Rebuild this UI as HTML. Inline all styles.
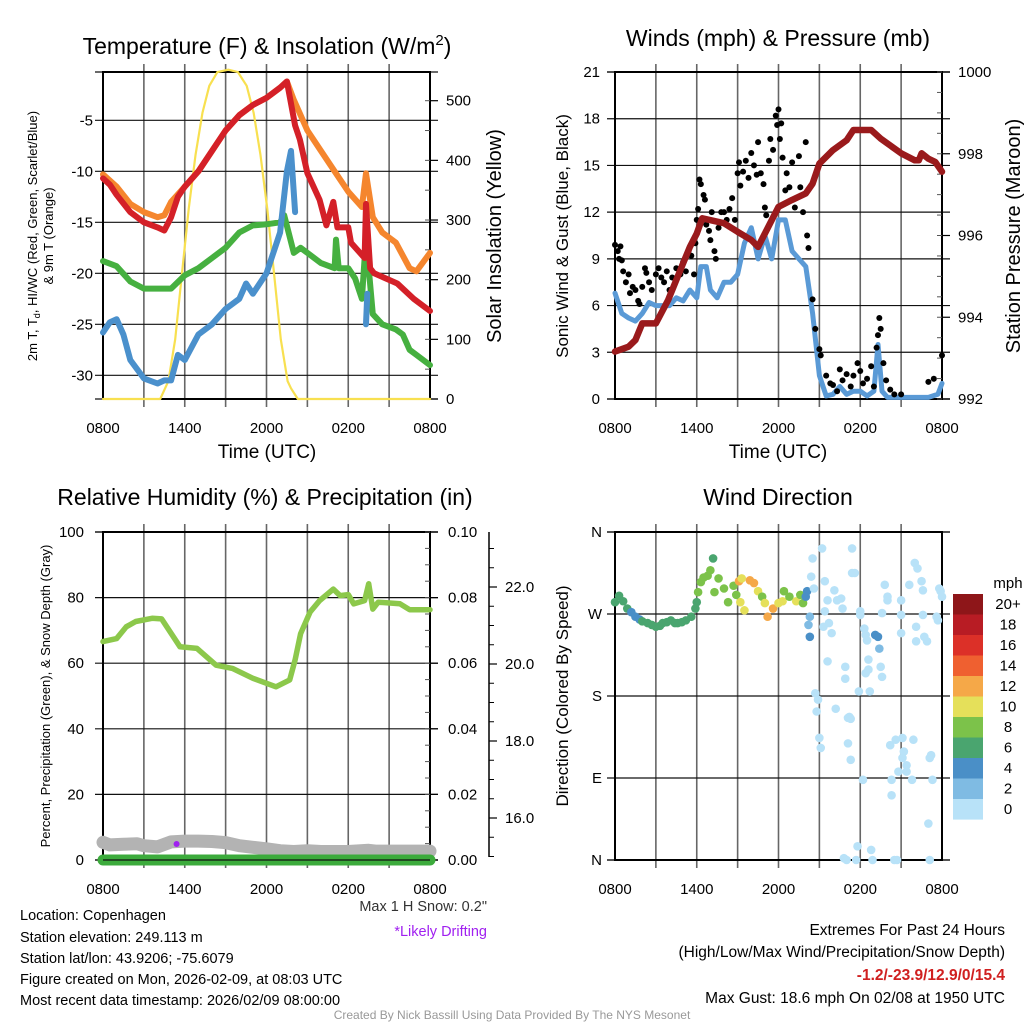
<!DOCTYPE html>
<html><head><meta charset="utf-8"><style>
body{margin:0;background:#fff;}
svg{display:block;font-family:"Liberation Sans",Arial,sans-serif;}
</style></head><body>
<svg id="s" width="1024" height="1024" viewBox="0 0 1024 1024" xmlns="http://www.w3.org/2000/svg">
<rect width="1024" height="1024" fill="#fff"/>
<g id="g1"></g>
<g id="g2"></g>
<g id="g3"></g>
<g id="g4"></g>
<text x="267" y="54" font-size="23" text-anchor="middle">Temperature (F) &amp; Insolation (W/m<tspan dy="-9" font-size="15">2</tspan><tspan dy="9">)</tspan></text>
<text x="778" y="46" font-size="23" text-anchor="middle">Winds (mph) &amp; Pressure (mb)</text>
<text x="265" y="505" font-size="23" text-anchor="middle">Relative Humidity (%) &amp; Precipitation (in)</text>
<text x="778" y="505" font-size="23" text-anchor="middle">Wind Direction</text>
<text x="267" y="458" font-size="19" text-anchor="middle">Time (UTC)</text>
<text x="778" y="458" font-size="19" text-anchor="middle">Time (UTC)</text>
<text transform="translate(37,236) rotate(-90)" font-size="13" text-anchor="middle">2m T, T<tspan font-size="9" dy="3">d</tspan><tspan dy="-3">, HI/WC (Red, Green, Scarlet/Blue)</tspan></text>
<text transform="translate(53,236) rotate(-90)" font-size="13" text-anchor="middle">&amp; 9m T (Orange)</text>
<text transform="translate(501,236) rotate(-90)" font-size="20" text-anchor="middle">Solar Insolation (Yellow)</text>
<text transform="translate(568,236) rotate(-90)" font-size="17" text-anchor="middle">Sonic Wind &amp; Gust (Blue, Black)</text>
<text transform="translate(1020,236) rotate(-90)" font-size="20" text-anchor="middle">Station Pressure (Maroon)</text>
<text transform="translate(50,696) rotate(-90)" font-size="13" text-anchor="middle">Percent, Precipitation (Green), &amp; Snow Depth (Gray)</text>
<text transform="translate(568,696) rotate(-90)" font-size="17" text-anchor="middle">Direction (Colored By Speed)</text>
<g font-size="14.5">
<text x="20" y="920">Location: Copenhagen</text>
<text x="20" y="942">Station elevation: 249.113 m</text>
<text x="20" y="963">Station lat/lon: 43.9206; -75.6079</text>
<text x="20" y="984">Figure created on Mon, 2026-02-09, at 08:03 UTC</text>
<text x="20" y="1005">Most recent data timestamp: 2026/02/09 08:00:00</text>
</g>
<text x="487" y="911" font-size="14.5" text-anchor="end" fill="#333">Max 1 H Snow: 0.2"</text>
<text x="487" y="936" font-size="14.5" text-anchor="end" fill="#a020f0">*Likely Drifting</text>
<g font-size="15.5" text-anchor="end">
<text x="1005" y="935">Extremes For Past 24 Hours</text>
<text x="1005" y="957">(High/Low/Max Wind/Precipitation/Snow Depth)</text>
<text x="1005" y="980" fill="#d02020" font-weight="bold">-1.2/-23.9/12.9/0/15.4</text>
<text x="1005" y="1003">Max Gust: 18.6 mph On 02/08 at 1950 UTC</text>
</g>
<text x="512" y="1019" font-size="12" text-anchor="middle" fill="#999">Created By Nick Bassill Using Data Provided By The NYS Mesonet</text>
</svg>
<script>
// ---------- data ----------
const xTickLabels=["0800","1400","2000","0200","0800"];
const tempTicks=[-5,-10,-15,-20,-25,-30];
const insolTicks=[0,100,200,300,400,500];
const t2Hours=[0,0.5,1,2,3,4,4.5,5,5.5,6,7,8,9,10,11,12,13,13.5,14.1,14.45,15,15.9,16.4,16.9,17.2,18,18.2,19.2,19.3,19.6,19.9,21.6,22.8,24];
const t2Vals=[-10.7,-11.3,-12.3,-14,-15,-15.5,-15.8,-14.5,-12.5,-11.5,-10,-8,-6,-4.5,-3.5,-2.8,-1.8,-1.2,-5.5,-6.9,-10.2,-12.8,-15.3,-13,-15.5,-15.5,-17,-18.5,-13.2,-19.5,-20,-21,-22.5,-23.7];
const t9Hours=[0,1,2,3,4,4.5,5,6,7,8,9,10,11,12,13,13.5,14,15,16,17,18,19,19.3,19.8,20.5,21.5,22.5,23,24];
const t9Vals=[-10.3,-11.5,-13.2,-14,-14.5,-14.3,-13,-11.5,-10,-8,-6,-4.5,-3.5,-2.8,-1.8,-1.2,-3,-6,-8,-10,-12,-13.5,-10.2,-14.5,-16,-17,-19.5,-19.8,-18];
const tdHours=[0,1,2,3,4,5,6,7,8,9,10,11,12,13,13.3,14,14.5,15,16,17,17.1,17.3,18,18.5,19,19.3,19.8,20.5,21.5,22,22.5,23,24];
const tdVals=[-18.8,-19.3,-20.8,-21.5,-21.5,-21.5,-20.2,-19.5,-18.5,-17.5,-16,-15.3,-15.2,-15,-14.3,-18,-17.5,-18,-19,-19.5,-16.7,-19.5,-19.5,-20.5,-22.5,-16.5,-24,-25,-25.5,-26,-27.5,-28,-29];
const wcHours=[0,0.5,1,1.5,2,3,4,4.5,5,5.5,6,7,8,9,10,10.5,11,12,12.5,13,13.5,13.8,14.1,null,19.3,19.4];
const wcVals=[-25.8,-24.8,-24.5,-26,-28.5,-30.3,-30.8,-30.5,-30.5,-28,-28.5,-26,-25,-23.5,-22.5,-21,-22,-20,-18,-16,-10,-8,-14,null,-25,-22];
const insHours=[0,4.2,4.8,5.3,5.8,6.3,6.8,7.3,7.8,8.4,9.2,9.9,10.55,11.05,11.55,12.05,12.55,13.05,13.55,13.8,14.3,24];
const insVals=[0,0,30,100,211,320,410,480,525,548,552,548,525,480,410,320,211,100,30,18,0,0];

const windTicks=[0,3,6,9,12,15,18,21];
const presTicks=[992,994,996,998,1000];
const windHours=[0,0.5,1,1.5,2,2.5,3,4,4.5,5,5.5,6,6.3,6.7,7,7.5,8,8.5,9,9.5,10,10.5,11,11.5,12,12.5,13,13.5,14,14.5,15,15.5,16,16.5,17,17.5,18,18.5,19,19.3,19.6,20,21,22,23,23.7,24];
const windVals=[6.8,5.5,5.2,5,5.5,6.2,6,6,6.5,6.3,7,6.5,8.5,8.5,7,6.5,7.5,7.5,8,10,11,9,10.5,9,11.5,11.5,9.5,9,8.5,5.5,1.5,0.2,0.3,0.8,0.3,0.5,0.5,0.2,0.5,3.5,0.5,0.1,0.1,0.1,0.1,0.3,1];
const gustHours=[0,0.2,0.3,0.4,0.5,0.6,0.8,1,1.1,1.3,1.5,1.7,1.8,2,2.2,2.3,2.5,2.7,3,3.2,3.4,3.6,3.8,4,4.2,4.5,4.8,5,5.2,5.4,5.6,5.8,5.9,6,6.1,6.2,6.3,6.5,6.6,6.7,6.9,7,7.1,7.3,7.4,7.6,7.8,8,8.2,8.4,8.6,8.8,9,9.1,9.2,9.4,9.6,9.8,10,10.2,10.4,10.5,10.7,10.9,11,11.1,11.3,11.4,11.6,11.8,11.9,12,12.1,12.2,12.3,12.5,12.6,12.8,13,13.2,13.5,13.6,13.8,14,14.1,14.2,14.5,14.7,15,15.1,15.5,15.8,16,16.3,16.5,16.7,17,17.3,17.5,17.8,18,18.2,18.5,18.8,19,19.2,19.3,19.4,19.5,19.7,19.9,20.2,20.5,21,23,23.4,24];
const gustVals=[9.9,9.5,9,9.8,8.9,8.2,7.5,8,6.8,7.2,7,6.3,6.1,7.2,8.4,8.1,7.5,7,8,8.4,7.8,7.5,8.2,7,7.8,8.4,8,8.8,8.2,9.5,9.2,8,10,11.5,12.2,14.1,13.8,13.1,12.8,11.2,10.8,10.2,12,9.5,9,11,12,12,11.5,12.2,12.9,11.5,14.5,15.2,13.7,14.6,15.3,14.2,15.8,15,14.4,16.5,14.5,13.8,12.3,11.8,15.3,16.7,16,18.2,17.6,18.6,16.7,17.7,15.5,13.4,14.5,13.6,15.2,12.3,15.6,13.6,12,16.5,10.5,9.7,6.4,4.5,3.2,2.8,1.5,1,0.9,0.5,1.9,1.2,1.6,0.8,1.5,2.3,1.8,1,1.3,2.1,0.8,3.3,4.1,5.2,4.5,2.3,1.2,0.6,0.3,0.3,1.1,1.3,2.8];
const presHours=[0,1,1.5,2,3,3.9,5,5.5,6,6.4,8,9,10,10.5,11,12,13,14,14.5,15,16,17,17.5,18,18.8,19.5,20,21,22,22.3,22.5,23,23.5,24];
const presVals=[993.16,993.28,993.44,993.85,993.85,994.42,995.32,995.72,996.05,996.42,996.3,996.09,995.89,995.72,996.05,996.7,996.87,997.03,997.27,997.76,998.09,998.33,998.58,998.58,998.58,998.37,998.25,998.01,997.84,997.84,998.01,997.88,997.8,997.56];

const rhTicks=[0,20,40,60,80,100];
const precipTicks=["0.00","0.02","0.04","0.06","0.08","0.10"];
const snowTicks=[16,18,20,22];
const rhHours=[0,1,1.7,2.4,3.6,4.3,5.65,6.9,8.3,9.5,11,12.7,13.7,14.1,14.5,15.2,15.9,16.9,17.4,18,18.4,19.2,19.5,19.8,20.2,21.8,22.5,24];
const rhVals=[66.6,67.5,71.1,72.7,73.7,73.5,65,64.5,59.4,58.4,55.4,52.8,54.9,61,69,75.6,79.1,82.6,80.6,80.9,78.1,79.1,84.2,76.5,78.6,78.1,76.3,76.3];
const snowHours=[0,0.5,1.5,2.5,3,4,5,6,7,8,9,10,11,12,13,14,15,16,18,19.5,20,24];
const snowVals=[15.37,15.3,15.32,15.33,15.28,15.25,15.38,15.4,15.4,15.39,15.36,15.28,15.24,15.2,15.15,15.13,15.15,15.13,15.13,15.16,15.14,15.14];
const precipHours=[0,24];
const precipVals=[0,0];

const dirLabels=["N","E","S","W","N"];
const dirTicks=[0,90,180,270,360];
const speedBinLabels=["20+","18","16","14","12","10","8","6","4","2","0"];
const dirHours=[0,0.3,0.6,0.9,1.2,1.5,1.8,2,2.4,2.7,3,3.3,3.5,3.8,4.1,4.4,4.6,4.9,5.2,5.6,5.9,6,6.1,6.3,6.5,6.8,7,7.2,7.3,7.6,8,8.3,8.7,8.9,9.1,9.2,9.3,9.5,9.9,10.2,10.5,10.8,11,11.2,11.6,12,12.3,12.4,12.8,13.3,13.6,13.8,14,14.1,14.2,14.3,14.3,14.4,14.5,14.6,14.7,14.8,14.9,15,15.1,15.2,15.3,15.4,15.4,15.6,15.6,15.7,15.9,16.1,16.2,16.3,16.6,16.7,16.8,16.9,16.9,17,17.1,17.1,17.2,17.3,17.3,17.4,17.4,17.6,17.7,17.8,17.9,18,18,18.2,18.3,18.4,18.4,18.5,18.6,18.6,18.7,18.8,18.9,19.1,19.3,19.4,19.5,19.6,19.6,19.8,20,20,20.2,20.3,20.3,20.5,20.6,20.7,20.8,21,21,21,21.1,21.1,21.2,21.4,21.4,21.6,21.8,21.9,22,22.1,22.1,22.2,22.5,22.6,22.6,22.7,22.9,23,23.1,23.1,23.2,23.3,23.6,23.7,23.8,23.9,24];
const dirVals=[283,290,284,276,272,267,264,262,260,258,256,257,260,261,263,260,260,261,263,267,276,283,294,305,310,312,318,331,294,309,298,283,301,291,306,283,309,274,307,304,295,289,282,267,276,282,284,295,289,284,291,282,289,295,258,245,267,311,331,298,183,163,176,134,123,342,256,306,273,285,218,260,249,296,166,285,287,276,2,212,199,0,156,128,157,110,155,315,342,315,0,15,185,273,269,88,254,247,205,241,209,220,185,11,0,247,245,232,212,201,271,302,289,285,126,88,71,0,132,0,97,285,269,249,134,112,119,104,97,302,88,132,326,256,240,320,306,296,269,245,240,40,0,112,115,88,267,263,298,295,289,285,315,271];
const dirSpeed=[7,7,7,7,5,5,5,7,7,7,7,7,7,7,7,7,7,7,7,7,7,7,9,9,9,9,9,7,9,9,9,9,9,9,13,11,11,11,13,13,11,9,11,13,13,11,11,9,9,11,9,9,5,5,3,5,3,1,1,1,1,1,1,1,1,1,1,1,1,1,1,1,1,1,1,1,1,1,1,1,1,1,1,1,1,1,1,1,1,1,1,1,1,1,1,1,1,1,1,1,1,1,1,1,1,5,5,3,1,1,1,1,1,1,1,1,1,1,1,1,1,1,1,1,1,1,1,1,1,1,1,1,1,1,1,1,1,1,1,1,1,1,1,1,1,1,1,1,1,1,1,1,1,1];

// ---------- drawing ----------
const NS="http://www.w3.org/2000/svg";
const speedColors=["#8e1619","#b81c24","#dc3028","#ef6030","#f5a848","#e5e05a","#7cc24a","#4aa56f","#4a8fc7","#7fbbe3","#b8e2f8"];
function mk(parent,tag,attrs){const e=document.createElementNS(NS,tag);for(const k in attrs)e.setAttribute(k,attrs[k]);parent.appendChild(e);return e;}
function Panel(gid,x0,x1,y0,y1){return {g:document.getElementById(gid),x0,x1,y0,y1,xs:h=>x0+h*(x1-x0)/24};}
function lin(d0,d1,r0,r1){return v=>r0+(v-d0)*(r1-r0)/(d1-d0);}
function frame(P,yTicks,ys,labels,labelX){
  const g=P.g;
  for(let i=1;i<8;i++){const x=P.xs(i*3);const l=mk(g,'line',{x1:x,x2:x,y1:P.y0-8,y2:P.y1+8,stroke:'#666','stroke-width':1.6});
    
    }
  yTicks.forEach((v,i)=>{const y=ys(v);const l=mk(g,'line',{x1:P.x0-8,x2:P.x1+8,y1:y,y2:y,stroke:'#111','stroke-width':1.2});
    
    
    const t=mk(g,'text',{x:labelX,y:y+5,'font-size':15,'text-anchor':'end'});t.textContent=labels[i];
    
    });
  mk(g,'line',{x1:P.x0-8,x2:P.x1+8,y1:P.y0,y2:P.y0,stroke:'#111','stroke-width':1.2});
  mk(g,'line',{x1:P.x0-8,x2:P.x1+8,y1:P.y1,y2:P.y1,stroke:'#111','stroke-width':1.2});
  mk(g,'rect',{x:P.x0,y:P.y0,width:P.x1-P.x0,height:P.y1-P.y0,fill:'none',stroke:'#000','stroke-width':2});
  xTickLabels.forEach((s,i)=>{const t=mk(g,'text',{x:P.xs(i*6),y:P.y1+34,'font-size':15,'text-anchor':'middle'});t.textContent=s;
    
    });
}
function rightAxis(P,ticks,ys,labels,x,minorStep,lo,hi){
  const g=P.g;
  ticks.forEach((v,i)=>{const y=ys(v);mk(g,'line',{x1:P.x1,x2:P.x1+8,y1:y,y2:y,stroke:'#000','stroke-width':1.2});
    const t=mk(g,'text',{x:x,y:y+5,'font-size':15});t.textContent=labels[i];
    
    });
  for(let v=lo;v<=hi+1e-9;v+=minorStep){const y=ys(v);if(y<P.y0-0.5||y>P.y1+0.5)continue;mk(g,'line',{x1:P.x1-5,x2:P.x1,y1:y,y2:y,stroke:'#555','stroke-width':1});}
}
function line(P,hours,vals,ys,color,w,name){
  let segs=[[]];
  hours.forEach((h,i)=>{if(h===null||vals[i]===null){segs.push([]);return;}segs[segs.length-1].push(P.xs(h).toFixed(1)+','+ys(vals[i]).toFixed(1));});
  segs.filter(s=>s.length).forEach(s=>{const p=mk(P.g,'polyline',{points:s.join(' '),fill:'none',stroke:color,'stroke-width':w,'stroke-linejoin':'round','stroke-linecap':'round'});
    
    });
}

// Panel 1
const P1=Panel('g1',103,430,72,399);
const tY=lin(-5,-30,120.3,375.3), iY=lin(0,500,399,100.7);
frame(P1,tempTicks,tY,tempTicks.map(String),93);
rightAxis(P1,insolTicks,iY,insolTicks.map(String),446,50,0,550);
line(P1,insHours,insVals,iY,'#f8e050',2.2,'insolation-line');
line(P1,t9Hours,t9Vals,tY,'#f5862e',6,'temp-9m-line');
line(P1,tdHours,tdVals,tY,'#46b040',6,'dewpoint-line');
line(P1,wcHours,wcVals,tY,'#4a90cc',6,'windchill-line');
line(P1,t2Hours,t2Vals,tY,'#d42028',6,'temp-2m-line');

// Panel 2
const P2=Panel('g2',615,942,72,399);
const wY=lin(0,21,399,72), pY=lin(992,1000,399,72);
frame(P2,windTicks,wY,windTicks.map(String),600);
rightAxis(P2,presTicks,pY,presTicks.map(String),958,0.5,992,1000);
line(P2,windHours,windVals,wY,'#5a9ad6',5,'wind-speed-line');
gustHours.forEach((h,i)=>{const c=mk(P2.g,'circle',{cx:P2.xs(h),cy:wY(gustVals[i]),r:3,fill:'#000'});
  
  });
line(P2,presHours,presVals,pY,'#9a1a1c',6.5,'pressure-line');

// Panel 3
const P3=Panel('g3',103,430,532,860);
const rY=lin(0,100,860,532), sY=lin(16,22,818,587);
frame(P3,rhTicks,rY,rhTicks.map(String),84);
rightAxis(P3,rhTicks,rY,precipTicks,448,5,0,100);
mk(P3.g,'line',{x1:489,x2:489,y1:532,y2:857,stroke:'#000','stroke-width':1.5});
for(let v=15;v<=23.4;v+=0.5){const y=sY(v);if(y<532||y>857)continue;mk(P3.g,'line',{x1:489,x2:494,y1:y,y2:y,stroke:'#000','stroke-width':1});}
snowTicks.forEach(v=>{const y=sY(v);mk(P3.g,'line',{x1:489,x2:497,y1:y,y2:y,stroke:'#000','stroke-width':1.2});const t=mk(P3.g,'text',{x:505,y:y+5,'font-size':15});t.textContent=v.toFixed(1);
  
  });
line(P3,snowHours,snowVals,sY,'#b3b3b3',13,'snow-depth-line');
line(P3,precipHours,precipVals,rY,'#3cab3c',11,'precip-line');
mk(P3.g,'line',{x1:103,x2:430,y1:860,y2:860,stroke:'#111','stroke-width':1.2});
line(P3,rhHours,rhVals,rY,'#8cc84b',5.5,'humidity-line');
mk(P3.g,'circle',{cx:P3.xs(5.4),cy:844,r:3,fill:'#a020f0'});

// Panel 4
const P4=Panel('g4',615,942,532,860);
const dY=lin(0,360,860,532);
frame(P4,dirTicks,dY,dirLabels,602);
dirHours.forEach((h,i)=>{const s=dirSpeed[i];const bin=Math.min(10,Math.floor(s/2));const c=mk(P4.g,'circle',{cx:P4.xs(h),cy:dY(dirVals[i]),r:4.3,fill:speedColors[10-bin]});
  
  });
const cb=mk(document.getElementById('s'),'g',{});


speedColors.forEach((c,i)=>{const y=594+i*20.5;mk(cb,'rect',{x:953,y:y,width:30,height:20.6,fill:c});
  const t=mk(cb,'text',{x:1008,y:y+15,'font-size':15,'text-anchor':'middle'});t.textContent=speedBinLabels[i];});
const mt=mk(cb,'text',{x:1008,y:588,'font-size':15,'text-anchor':'middle'});mt.textContent='mph';
</script>
</body></html>
